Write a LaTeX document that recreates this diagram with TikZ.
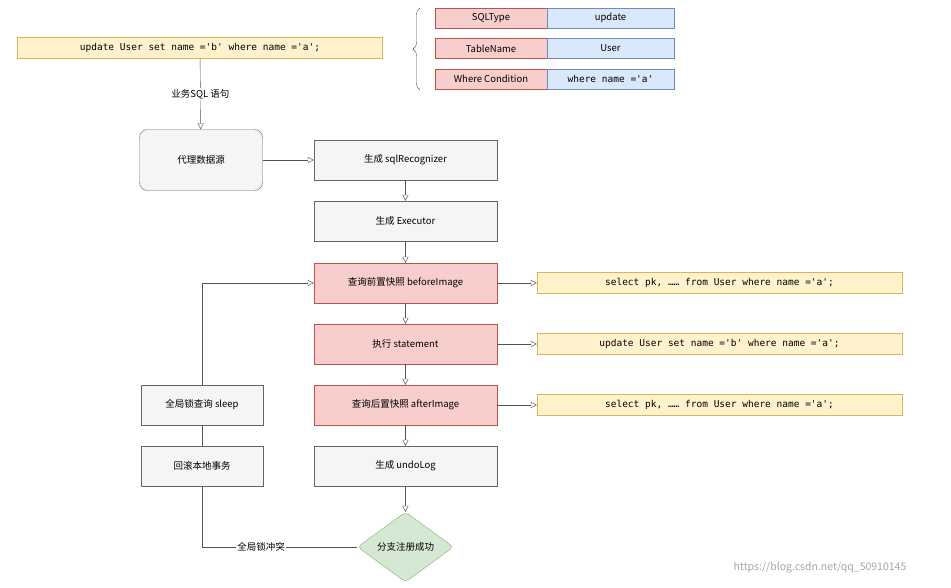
\documentclass[tikz,border=0pt]{standalone}
\usepackage{fontspec}
\setmainfont{Noto Sans CJK SC}
\setmonofont{DejaVu Sans Mono}
\usetikzlibrary{arrows.meta,shapes.geometric,decorations.pathreplacing}
\definecolor{ylw}{HTML}{FFF2CC}\definecolor{ylwd}{HTML}{D6B656}
\definecolor{pnk}{HTML}{F8CECC}\definecolor{pnkd}{HTML}{B85450}
\definecolor{blu}{HTML}{DAE8FC}\definecolor{blud}{HTML}{6C8EBF}
\definecolor{gry}{HTML}{F5F5F5}\definecolor{gryd}{HTML}{666666}
\definecolor{grn}{HTML}{D5E8D4}\definecolor{grnd}{HTML}{82B366}
\begin{document}
\begin{tikzpicture}[x=1pt,y=-1pt,font=\fontsize{9.5}{11}\selectfont,
 box/.style={draw=gryd,fill=gry,minimum width=183pt,minimum height=40pt,inner sep=0pt},
 pbox/.style={box,draw=pnkd,fill=pnk},
 lbox/.style={box,minimum width=122pt},
 code/.style={draw=ylwd,fill=ylw,minimum width=365pt,minimum height=21pt,inner sep=0pt,font=\ttfamily\fontsize{9.5}{11}\selectfont},
 kc/.style={draw=pnkd,fill=pnk,minimum width=112pt,minimum height=20pt,inner sep=0pt},
 vc/.style={draw=blud,fill=blu,minimum width=127pt,minimum height=20pt,inner sep=0pt},
 ar/.style={draw=gryd!80!black,-{Triangle[open,length=6pt,width=6pt]}},
 ln/.style={draw=gryd!80!black}]
\useasboundingbox (0,0) rectangle (951,587);
\node[code] (sql) at (200,48) {update User set name ='b' where name ='a';};
\node[kc] (k1) at (491,18) {SQLType};
\node[vc] (v1) at (610.5,18) {update};
\node[kc] (k2) at (491,48.5) {TableName};
\node[vc] (v2) at (610.5,48.5) {User};
\node[kc] (k3) at (491,79) {Where Condition};
\node[vc,font=\ttfamily\fontsize{9.5}{11}\selectfont] (v3) at (610.5,79) {where name ='a'};
\draw[ln,decorate,decoration={brace,amplitude=7pt}] (420,90) -- (420,8);
\node[draw=gryd,fill=gry,rounded corners=8pt,minimum width=123pt,minimum height=61pt] (ds) at (201,160) {代理数据源};
\node[box] (rec) at (405.5,160) {生成 sqlRecognizer};
\node[box] (exe) at (405.5,221) {生成 Executor};
\node[pbox] (bef) at (405.5,283) {查询前置快照 beforeImage};
\node[pbox] (stm) at (405.5,344) {执行 statement};
\node[pbox] (aft) at (405.5,405) {查询后置快照 afterImage};
\node[box] (undo) at (405.5,466) {生成 undoLog};
\node[diamond,draw=grnd,fill=grn,rounded corners=4pt,minimum width=96pt,minimum height=70pt,inner sep=0pt,aspect=1.37] (ok) at (405.5,547) {分支注册成功};
\node[code] (c1) at (719.5,283) {select pk, …… from User where name ='a';};
\node[code] (c2) at (719.5,344) {update User set name ='b' where name ='a';};
\node[code] (c3) at (719.5,405) {select pk, …… from User where name ='a';};
\node[lbox] (slp) at (202,405) {全局锁查询 sleep};
\node[lbox] (rb) at (202,466) {回滚本地事务};
\draw[ar] (sql) -- node[fill=white,inner sep=1pt]{业务SQL 语句} (ds);
\draw[ar] (ds) -- (rec);
\draw[ar] (rec) -- (exe);
\draw[ar] (exe) -- (bef);
\draw[ar] (bef) -- (stm);
\draw[ar] (stm) -- (aft);
\draw[ar] (aft) -- (undo);
\draw[ar] (undo) -- (ok);
\draw[ar] (bef) -- (c1);
\draw[ar] (stm) -- (c2);
\draw[ar] (aft) -- (c3);
\draw[ln] (ok.west) -- node[fill=white,inner sep=1pt,pos=0.62]{全局锁冲突} (rb.south |- ok.west) -- (rb.south);
\draw[ln] (rb) -- (slp);
\draw[ar] (slp.north) -- (slp.north |- bef.west) -- (bef.west);
\node[text=gray!70,font=\fontsize{10.5}{12}\selectfont] (wm) at (820,568) {https://blog.csdn.net/qq\_50910145};
\end{tikzpicture}
\end{document}
